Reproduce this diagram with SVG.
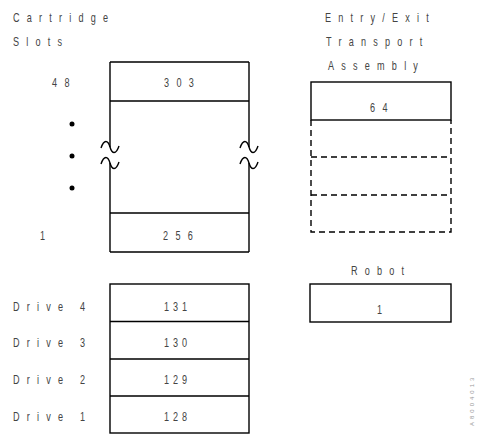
<svg xmlns="http://www.w3.org/2000/svg" width="478" height="434" viewBox="0 0 478 434">
<style>
  text { font-family: "Liberation Sans", "DejaVu Sans", sans-serif; font-size: 13px; fill: #444; }
  .w { letter-spacing: 10.3px; }
  .n { letter-spacing: 10.5px; }
  .d { letter-spacing: 5.6px; }
  .box { fill: none; stroke: #000; stroke-width: 1.4; }
  .ln { stroke: #000; stroke-width: 1.4; fill: none; }
  .dash { stroke: #000; stroke-width: 1.4; fill: none; stroke-dasharray: 6 4; }
  .id { font-size: 6px; fill: #999; letter-spacing: 3px; }
</style>
<rect width="478" height="434" fill="#fff"/>

<g id="cartridge-slots">
  <text class="w" transform="translate(13,22) scale(0.7,1)">Cartridge</text>
  <text class="w" transform="translate(13,46) scale(0.7,1)">Slots</text>
  <text class="n" transform="translate(52,87) scale(0.7,1)">48</text>
  <text class="n" transform="translate(40,240) scale(0.7,1)">1</text>
  <circle cx="72" cy="124" r="2.5" fill="#000"/>
  <circle cx="72" cy="156" r="2.5" fill="#000"/>
  <circle cx="72" cy="188" r="2.5" fill="#000"/>
  <path class="ln" d="M110,62 H249 M110,101 H249 M110,213 H249 M110,252 H249"/>
  <path class="ln" d="M110,62 V147 M110,163 V252 M249,62 V147 M249,163 V252"/>
  <path class="ln" d="M101,148 C104,139 108,140 110,147 C112,154 116,155 119,146"/>
  <path class="ln" d="M101,164 C104,155 108,156 110,163 C112,170 116,171 119,162"/>
  <path class="ln" d="M240,148 C243,139 247,140 249,147 C251,154 255,155 258,146"/>
  <path class="ln" d="M240,164 C243,155 247,156 249,163 C251,170 255,171 258,162"/>
  <text class="n" transform="translate(164,87) scale(0.7,1)">303</text>
  <text class="n" transform="translate(163,240) scale(0.7,1)">256</text>
</g>

<g id="entry-exit">
  <text class="w" transform="translate(325,22) scale(0.7,1)">Entry/Exit</text>
  <text class="w" transform="translate(326,46) scale(0.7,1)">Transport</text>
  <text class="w" transform="translate(328,70) scale(0.7,1)">Assembly</text>
  <rect class="box" x="311" y="82" width="140" height="38"/>
  <text class="n" transform="translate(370,112) scale(0.7,1)">64</text>
  <path class="dash" d="M311,120 V232 H451 V120 M311,157 H451 M311,195 H451"/>
</g>

<g id="robot">
  <text class="w" transform="translate(351,275) scale(0.7,1)">Robot</text>
  <rect class="box" x="310" y="284" width="141" height="38"/>
  <text class="n" transform="translate(377,314) scale(0.7,1)">1</text>
</g>

<g id="drives">
  <rect class="box" x="110" y="284" width="139" height="149"/>
  <path class="ln" d="M110,321.5 H249 M110,359 H249 M110,396 H249" stroke-width="2"/>
  <text class="w" transform="translate(13,311) scale(0.7,1)">Drive 4</text>
  <text class="w" transform="translate(13,347) scale(0.7,1)">Drive 3</text>
  <text class="w" transform="translate(13,384) scale(0.7,1)">Drive 2</text>
  <text class="w" transform="translate(13,421) scale(0.7,1)">Drive 1</text>
  <text class="d" transform="translate(164,311) scale(0.7,1)">131</text>
  <text class="d" transform="translate(164,347) scale(0.7,1)">130</text>
  <text class="d" transform="translate(164,384) scale(0.7,1)">129</text>
  <text class="d" transform="translate(164,421) scale(0.7,1)">128</text>
</g>

<text class="id" transform="translate(474,426) rotate(-90)">A8004013</text>
</svg>
